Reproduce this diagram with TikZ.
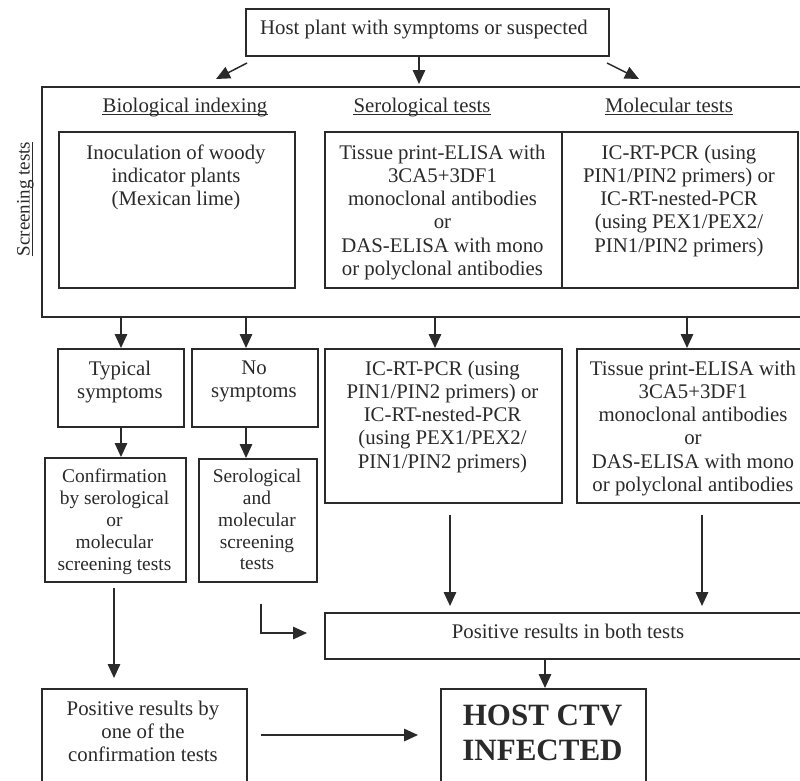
\documentclass[tikz,border=0pt]{standalone}
\usepackage{fontspec}
\setmainfont{Liberation Serif}
\usetikzlibrary{arrows.meta,calc}
\definecolor{ink}{HTML}{2A2A2A}
\begin{document}
\begin{tikzpicture}[x=1pt,y=-1pt,
  box/.style={draw=ink, line width=1.7pt, inner sep=0pt, anchor=north west},
  txt/.style={text=ink, font=\fontsize{20.8}{23.2}\selectfont, align=center, inner sep=0pt},
  txs/.style={text=ink, font=\fontsize{19.4}{21.8}\selectfont, align=center, inner sep=0pt},
  bigtxt/.style={text=ink, font=\fontsize{31}{35}\selectfont\bfseries, align=center, inner sep=0pt},
  arr/.style={draw=ink, line width=1.5pt, -{Triangle[length=14pt,width=12.5pt]}},
  uline/.style={draw=ink, line width=1.1pt}]
\useasboundingbox (0,0) rectangle (800,780);
\fill[white] (0,0) rectangle (800,780);
\clip (0,0) rectangle (800,780);

% boxes
\node[box, minimum width=363pt, minimum height=47pt] (top) at (245,8) {};
\node[box, minimum width=780pt, minimum height=230pt] (big) at (41,86) {};
\node[box, minimum width=236pt, minimum height=156pt] (bio) at (58,131) {};
\node[box, minimum width=237pt, minimum height=156pt] (sero) at (324,131) {};
\node[box, minimum width=236pt, minimum height=156pt] (mol) at (561,131) {};
\node[box, minimum width=126pt, minimum height=78pt] (typ) at (57,348) {};
\node[box, minimum width=126pt, minimum height=78pt] (nosym) at (191,348) {};
\node[box, minimum width=237pt, minimum height=154pt] (pcr) at (324,348) {};
\node[box, minimum width=240pt, minimum height=154pt] (tis) at (576,348) {};
\node[box, minimum width=141pt, minimum height=124pt] (conf) at (44,457) {};
\node[box, minimum width=118pt, minimum height=123pt] (serom) at (198,458) {};
\node[box, minimum width=500pt, minimum height=46pt] (both) at (324,612) {};
\node[box, minimum width=205pt, minimum height=110pt] (pos1) at (41,688) {};
\node[box, minimum width=205pt, minimum height=110pt] (host) at (440,688) {};

% texts
\node[txt, anchor=base] (ttop) at (424,34.5) {Host plant with symptoms or suspected};
\node[txt, anchor=base] (hbio) at (185,112) {Biological indexing};
\node[txt, anchor=base] (hsero) at (422,112) {Serological tests};
\node[txt, anchor=base] (hmol) at (669,112) {Molecular tests};
\draw[uline] ($(hbio.base west)+(0,2.6)$) -- ($(hbio.base east)+(0,2.6)$);
\draw[uline] ($(hsero.base west)+(0,2.6)$) -- ($(hsero.base east)+(0,2.6)$);
\draw[uline] ($(hmol.base west)+(0,2.6)$) -- ($(hmol.base east)+(0,2.6)$);
\node[text=ink, font=\fontsize{19}{21}\selectfont, inner sep=0pt, anchor=base, rotate=90] (scr) at (29.5,199) {Screening tests};
\draw[uline] ($(scr.base west)+(2.6,0)$) -- ($(scr.base east)+(2.6,0)$);

\node[txt, anchor=north] (tbio) at (176,144.7) {Inoculation of woody\\indicator plants\\(Mexican lime)};
\node[txt, anchor=north] (tsero) at (442.5,144.7) {Tissue print-ELISA with\\3CA5+3DF1\\monoclonal antibodies\\or\\DAS-ELISA with mono\\or polyclonal antibodies};
\node[txt, anchor=north] (tmol) at (679,144.7) {IC-RT-PCR (using\\PIN1/PIN2 primers) or\\IC-RT-nested-PCR\\(using PEX1/PEX2/\\PIN1/PIN2 primers)};
\node[txt, anchor=north] (ttyp) at (120,360.7) {Typical\\symptoms};
\node[txt, anchor=north] (tnosym) at (254,360.7) {No\\symptoms};
\node[txt, anchor=north] (tpcr) at (442.5,360.7) {IC-RT-PCR (using\\PIN1/PIN2 primers) or\\IC-RT-nested-PCR\\(using PEX1/PEX2/\\PIN1/PIN2 primers)};
\node[txt, anchor=north] (ttis) at (693,360.7) {Tissue print-ELISA with\\3CA5+3DF1\\monoclonal antibodies\\or\\DAS-ELISA with mono\\or polyclonal antibodies};
\node[txs, anchor=north] (tconf) at (114.5,469.1) {Confirmation\\by serological\\or\\molecular\\screening tests};
\node[txs, anchor=north] (tserom) at (257,469.1) {Serological\\and\\molecular\\screening\\tests};
\node[txt, anchor=base] (tboth) at (568,638.9) {Positive results in both tests};
\node[txt, anchor=north] (tpos1) at (143,700.7) {Positive results by\\one of the\\confirmation tests};
\node[bigtxt, anchor=north] (thost) at (542.5,704.5) {HOST CTV\\INFECTED};

% connectors
\coordinate (tl1) at (247,63);
\coordinate (tl2) at (216,79);
\coordinate (tr1) at (607,63);
\coordinate (tr2) at (639,79);
\coordinate (tm) at (419,84);
\draw[arr] (tl1) -- (tl2);
\draw[arr] (tr1) -- (tr2);
\draw[arr] (top.south -| tm) -- (tm);

\coordinate (x1) at (121,0);
\coordinate (x2) at (246,0);
\coordinate (x3) at (435,0);
\coordinate (x4) at (687,0);
\draw[arr] (big.south -| x1) -- (typ.north -| x1);
\draw[arr] (big.south -| x2) -- (nosym.north -| x2);
\draw[arr] (big.south -| x3) -- (pcr.north -| x3);
\draw[arr] (big.south -| x4) -- (tis.north -| x4);
\draw[arr] (typ.south -| x1) -- (conf.north -| x1);
\draw[arr] (nosym.south -| x2) -- (serom.north -| x2);

\coordinate (x5) at (114,0);
\draw[arr] ($(conf.south -| x5)+(0,5)$) -- ($(pos1.north -| x5)+(0,-10)$);
\coordinate (x6) at (450,0);
\coordinate (x7) at (702,0);
\draw[arr] ($(pcr.south -| x6)+(0,11)$) -- ($(both.north -| x6)+(0,-6)$);
\draw[arr] ($(tis.south -| x7)+(0,11)$) -- ($(both.north -| x7)+(0,-6)$);
\coordinate (x8) at (261,0);
\coordinate (y8) at (0,633);
\draw[arr] ($(serom.south -| x8)+(0,21)$) -- (x8 |- y8) -- ($(both.west |- y8)+(-17,0)$);
\coordinate (x9) at (545,0);
\draw[arr] (both.south -| x9) -- (host.north -| x9);
\coordinate (ha) at (261,735);
\draw[arr] (ha) -- ($(host.west |- ha)+(-22,0)$);
\end{tikzpicture}
\end{document}
